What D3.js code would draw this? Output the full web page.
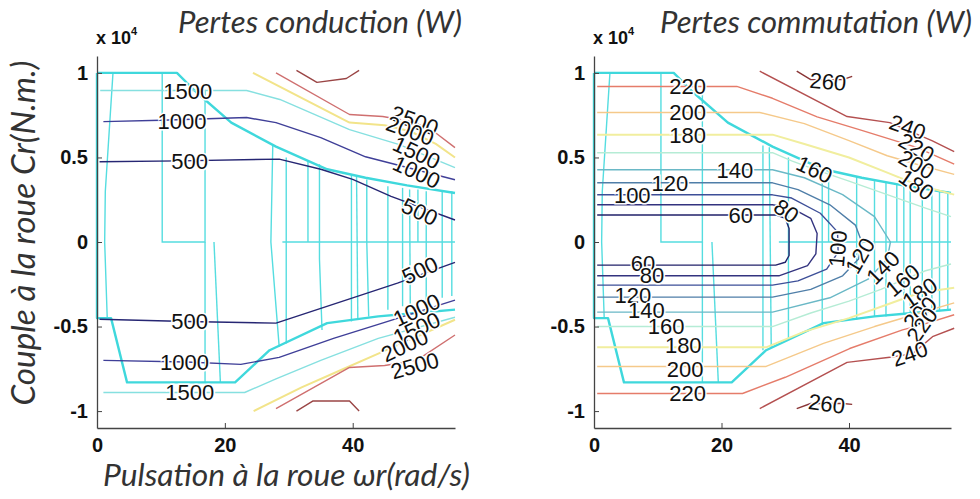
<!DOCTYPE html>
<html><head><meta charset="utf-8">
<script src="https://cdn.jsdelivr.net/npm/d3@7"></script>
<style>body{margin:0;background:#fff;} svg{display:block}</style>
</head><body>
<svg id="c" width="980" height="499"></svg>
<script>
// ---------- DATA ----------
const xTicks = [0, 20, 40];
const xTickLabels = ["0", "20", "40"];
const yTicks = [-1, -0.5, 0, 0.5, 1];
const yTickLabels = ["-1", "-0.5", "0", "0.5", "1"];
const titles = ["Pertes conduction (W)", "Pertes commutation (W)"];
const yLabel = "Couple à la roue Cr(N.m.)";
const xLabel = "Pulsation à la roue ωr(rad/s)";

// Conduction losses contours (x: rad/s, y: N.m x 1e4)
const cond500Top = [[0.4,0.475],[13,0.48],[28.5,0.49],[35,0.43],[40,0.37],[46,0.27],[56,0.13]];
const cond500Bot = [[0.4,-0.457],[14,-0.47],[28,-0.48],[40,-0.33],[47,-0.243],[56,-0.12]];
const cond1000Top = [[1,0.712],[10,0.72],[23.4,0.736],[28,0.706],[35,0.617],[42,0.504],[56,0.368]];
const cond1000Bot = [[1,-0.70],[14,-0.71],[22.5,-0.724],[28.5,-0.682],[37,-0.57],[45,-0.475],[56,-0.344]];
const cond1500Top = [[0.5,0.896],[23.4,0.896],[28.6,0.843],[39.5,0.665],[47.3,0.576],[56,0.44]];
const cond1500Bot = [[1,-0.89],[23.1,-0.89],[28,-0.81],[35,-0.7],[44,-0.57],[56,-0.445]];
const cond2000Top = [[24.4,1.0],[39.5,0.706],[45,0.69],[49,0.655],[53,0.58],[56,0.5]];
const cond2000Bot = [[24.5,-1.0],[32,-0.86],[38,-0.76],[44,-0.66],[56,-0.46]];
const cond2500Top = [[28,1.0],[39.5,0.754],[44.7,0.742],[49.5,0.71],[53,0.645],[56,0.558]];
const cond2500Bot = [[28,-0.985],[39.5,-0.742],[45,-0.73],[50,-0.7],[56,-0.55]];
const cond3000Top = [[31.2,1.015],[34.4,0.944],[39,0.967],[41,1.015]];
const cond3000Bot = [[31.2,-1.0],[33.8,-0.94],[39.5,-0.94],[41,-1.0]];
const condLabels = [
  ["1500",14.2,0.893,0],["1000",13.3,0.715,0],["500",14.5,0.478,0],
  ["2500",49.7,0.72,20],["2000",49,0.66,20],["1500",50,0.53,25],["1000",50,0.415,25],["500",50.5,0.18,25],
  ["500",14.5,-0.47,0],["1000",13.7,-0.71,0],["1500",14.5,-0.89,0],
  ["500",50.5,-0.166,-25],["1000",50,-0.40,-25],["1500",50,-0.51,-25],["2000",48.1,-0.61,-25],["2500",49.7,-0.73,-15]
];

// Switching losses contours
const comm60 = [[0.5,0.16],[28.5,0.16],[30,0.14],[30.6,0.08],[30.6,-0.08],[30,-0.12],[28.5,-0.137],[0.5,-0.137]];
const comm80 = [[0.5,0.22],[28,0.22],[31,0.2],[34,0.14],[35,0.05],[34.8,-0.07],[33.5,-0.14],[29,-0.2],[0.5,-0.2]];
const comm100 = [[0.5,0.279],[28,0.279],[31,0.26],[35.5,0.17],[38.2,0.06],[38.3,-0.06],[36.5,-0.16],[32,-0.23],[28,-0.255],[0.5,-0.255]];
const comm120 = [[0.5,0.35],[28,0.35],[32,0.31],[37,0.22],[41,0.1],[42,0.0],[41.5,-0.1],[39,-0.2],[34,-0.28],[28,-0.326],[0.5,-0.326]];
const comm140 = [[0.5,0.427],[28,0.427],[33,0.38],[39,0.28],[44,0.15],[46.5,0.0],[46,-0.1],[43,-0.22],[37,-0.33],[28,-0.415],[0.5,-0.415]];
const comm160Top = [[0.5,0.528],[28,0.528],[31,0.48],[34.6,0.43],[40,0.36],[46,0.28],[52,0.2],[56,0.15]];
const comm160Bot = [[0.5,-0.5],[28,-0.5],[34,-0.42],[40,-0.35],[45,-0.28],[48.4,-0.226],[52,-0.17],[56,-0.13]];
const comm180Top = [[0.5,0.635],[28,0.635],[33,0.58],[40,0.5],[46,0.41],[50.6,0.34],[56.5,0.28]];
const comm180Bot = [[0.5,-0.623],[27,-0.623],[33,-0.53],[40,-0.45],[46,-0.37],[51.1,-0.30],[56.5,-0.27]];
const comm200Top = [[0.5,0.766],[26,0.766],[33,0.7],[40,0.6],[46,0.51],[50.6,0.46],[56.5,0.4]];
const comm200Bot = [[0.5,-0.736],[27,-0.736],[36,-0.6],[44,-0.5],[51.1,-0.42],[56.5,-0.36]];
const comm220Top = [[0.5,0.92],[22.4,0.92],[28,0.85],[35,0.74],[42,0.66],[50.6,0.56],[56.5,0.46]];
const comm220Bot = [[0.5,-0.896],[23.3,-0.896],[30,-0.8],[40.1,-0.63],[48.4,-0.52],[51.4,-0.49],[56.5,-0.43]];
const comm240Top = [[26,1.01],[39.7,0.742],[46.4,0.706],[53,0.6],[56.5,0.534]];
const comm240Bot = [[26,-0.985],[39.7,-0.712],[46.4,-0.682],[50,-0.66],[53.1,-0.56],[56.5,-0.51]];
const comm260Top = [[31.8,1.01],[34,0.96],[39,0.96],[40.5,0.98]];
const comm260Bot = [[31.8,-0.985],[34,-0.955],[39,-0.955],[40.5,-0.96]];
const commLabels = [
  ["220",14.7,0.92,0],["200",14.7,0.766,0],["180",14.7,0.635,0],["140",22.1,0.427,0],["120",11.9,0.35,0],["100",6,0.28,0],["60",23,0.16,0],
  ["80",30.2,0.185,35],["160",34.6,0.43,25],["260",36.7,0.95,5],["240",49.2,0.68,20],["220",50.6,0.56,30],["200",50.6,0.46,30],["180",50.6,0.34,35],
  ["100",38.2,-0.04,-85],["120",41.7,-0.08,-60],["140",45.3,-0.15,-45],["160",48.4,-0.226,-40],["180",51.1,-0.30,-35],["200",51.1,-0.42,-45],["220",51.4,-0.49,-55],["240",49.5,-0.66,-20],["260",36.5,-0.955,8],
  ["60",7.7,-0.125,0],["80",9.1,-0.196,0],["120",6.1,-0.315,0],["140",8.2,-0.40,0],["160",11.3,-0.5,0],["180",14,-0.61,0],["200",14.3,-0.75,0],["220",14.7,-0.896,0]
];

// Operating envelope and zero-level contours (cyan)
const envTop = [[0,1.0],[12.5,1.0],[15.5,0.887],[21,0.706],[28,0.564],[36,0.43],[42,0.38],[48.5,0.335],[56,0.29]];
const envBot = [[0,1.0],[0,-0.45],[2.2,-0.45],[4.7,-0.83],[21.6,-0.83],[27,-0.64],[36,-0.48],[44,-0.44],[50,-0.42],[56,-0.4]];
const condZero = [
  [[2.5,1.0],[1.3,0.3],[1.2,0.0],[1.6,-0.45]],
  [[10.2,1.0],[10.2,0.0],[16.9,0.0],[16.9,0.9]],
  [[16.9,0.0],[16.9,-0.83]],
  [[18.3,0.0],[19.3,-0.83]],
  [[29,0.0],[56,0.0]],
  [[27.5,0.58],[27.2,0.0],[28.5,-0.62]],
  [[29.6,0.5],[29.6,-0.6]],
  [[33,0.48],[33,0.0]],
  [[34.8,0.46],[34.8,-0.1],[35.2,-0.52]],
  [[39.8,0.4],[39.8,-0.47]],
  [[40.6,0.39],[40.8,-0.46]],
  [[42.2,0.37],[42.2,0.0],[42.5,-0.44]],
  [[45.5,0.33],[45.5,-0.4]],
  [[47.8,0.32],[47.8,-0.38]],
  [[48.9,0.31],[49,-0.37]],
  [[50.2,0.31],[50.2,0.0]],
  [[51.5,0.3],[51.5,-0.35]],
  [[54,0.3],[54,-0.33]],
  [[55.5,0.3],[55.5,-0.32]]
];
const commZero = [
  [[2.5,1.0],[1.3,0.3],[1.2,0.0],[1.6,-0.45]],
  [[10.5,1.0],[10.5,0.0],[17,0.0],[17,0.9]],
  [[17,0.0],[17,-0.83]],
  [[18.5,0.0],[19.5,-0.83]],
  [[29,0.0],[56,0.0]],
  [[26.5,0.57],[26.5,-0.64]],
  [[27.5,0.56],[27.8,-0.62]],
  [[30.5,0.5],[30.5,-0.58]],
  [[35.8,0.43],[35.8,-0.48]],
  [[36.8,0.42],[36.8,0.0]],
  [[41.2,0.39],[41.2,-0.46]],
  [[44,0.36],[44,-0.44]],
  [[45.8,0.35],[45.8,-0.44]],
  [[47.5,0.34],[47.5,0.0]],
  [[48.6,0.34],[48.6,-0.43]],
  [[49.6,0.33],[49.6,-0.43]],
  [[51.5,0.32],[51.5,-0.42]],
  [[53,0.31],[53,-0.42]],
  [[54.2,0.3],[54.2,-0.41]],
  [[55.5,0.3],[55.5,-0.4]]
];

// ---------- DRAW ----------
const svg = d3.select("#c");
const xDomain = [0, 56], yDomain = [-1.1, 1.1];
const tickFont = "'Liberation Sans', Arial, sans-serif";
const labFont = "Lato, 'Open Sans', sans-serif";

const condSeries = [
  {d: cond500Top, c: "#262673"}, {d: cond500Bot, c: "#262673"},
  {d: cond1000Top, c: "#3f3f98"}, {d: cond1000Bot, c: "#3f3f98"},
  {d: cond1500Top, c: "#86e0e0"}, {d: cond1500Bot, c: "#86e0e0"},
  {d: cond2000Top, c: "#f2e48a", w: 2}, {d: cond2000Bot, c: "#f2e48a", w: 2},
  {d: cond2500Top, c: "#cf6f6f"}, {d: cond2500Bot, c: "#cf6f6f"},
  {d: cond3000Top, c: "#9a4545"}, {d: cond3000Bot, c: "#9a4545"}
];
const commSeries = [
  {d: comm60, c: "#22226a"}, {d: comm80, c: "#33337f"}, {d: comm100, c: "#3d4f98"},
  {d: comm120, c: "#4f7ea8"}, {d: comm140, c: "#6ab8c6"},
  {d: comm160Top, c: "#b5ecd5"}, {d: comm160Bot, c: "#b5ecd5"},
  {d: comm180Top, c: "#f1ee9e", w: 2}, {d: comm180Bot, c: "#f1ee9e", w: 2},
  {d: comm200Top, c: "#f5c98a"}, {d: comm200Bot, c: "#f5c98a"},
  {d: comm220Top, c: "#e57c6a"}, {d: comm220Bot, c: "#e57c6a"},
  {d: comm240Top, c: "#b45050"}, {d: comm240Bot, c: "#b45050"},
  {d: comm260Top, c: "#8a3535"}, {d: comm260Bot, c: "#8a3535"}
];

const panels = [
  {x0: 97, x1: 455, series: condSeries, labels: condLabels, zero: condZero, title: titles[0], tx: 178, tw: 284},
  {x0: 594, x1: 951, series: commSeries, labels: commLabels, zero: commZero, title: titles[1], tx: 660, tw: 312}
];

function fit(sel, target) {
  const L = sel.node().getComputedTextLength();
  const fs = parseFloat(sel.attr("font-size"));
  sel.attr("font-size", (fs * target / L).toFixed(2));
}

panels.forEach(p => {
  const xs = d3.scaleLinear().domain(xDomain).range([p.x0, p.x1]);
  const ys = d3.scaleLinear().domain(yDomain).range([428, 56]);
  const line = d3.line().x(d => xs(d[0])).y(d => ys(d[1]));
  const g = svg.append("g");

  g.selectAll(".z").data(p.zero).join("path")
    .attr("d", line).attr("fill", "none").attr("stroke", "#55dde0").attr("stroke-width", 1.4);
  [envTop, envBot].forEach(e => g.append("path").attr("d", line(e))
    .attr("fill", "none").attr("stroke", "#3fd8dc").attr("stroke-width", 2.4).attr("stroke-linejoin", "round"));
  g.selectAll(".ct").data(p.series).join("path")
    .attr("d", s => line(s.d)).attr("fill", "none").attr("stroke", s => s.c)
    .attr("stroke-width", s => s.w || 1.4).attr("stroke-linejoin", "round");
  g.selectAll(".lb").data(p.labels).join("text")
    .attr("transform", l => `translate(${xs(l[1])},${ys(l[2])}) rotate(${l[3]})`)
    .attr("text-anchor", "middle").attr("dy", "0.36em")
    .attr("font-family", tickFont).attr("font-size", 22).attr("fill", "#111")
    .attr("stroke", "#fff").attr("stroke-width", 3).attr("paint-order", "stroke")
    .text(l => l[0]);

  const ax = g.append("g").attr("transform", `translate(0,${ys(-1.1)})`)
    .call(d3.axisBottom(xs).tickValues(xTicks).tickFormat((d, i) => xTickLabels[i]).tickSizeInner(-5).tickSizeOuter(0).tickPadding(10));
  const ay = g.append("g").attr("transform", `translate(${xs(0)},0)`)
    .call(d3.axisLeft(ys).tickValues(yTicks).tickFormat((d, i) => yTickLabels[i]).tickSizeInner(-5).tickSizeOuter(0).tickPadding(9));
  [ax, ay].forEach(a => {
    a.select(".domain").attr("stroke", "#444").attr("stroke-width", 1.3);
    a.selectAll(".tick line").attr("stroke", "#444");
    a.selectAll("text").attr("font-family", tickFont).attr("font-size", 20)
      .attr("font-weight", "bold").attr("fill", "#111");
  });

  const ex = g.append("text").attr("x", p.x0 - 1).attr("y", 44)
    .attr("font-family", tickFont).attr("font-weight", "bold").attr("font-size", 18).attr("fill", "#111");
  ex.append("tspan").text("x 10");
  ex.append("tspan").attr("font-size", 11).attr("dy", -9).text("4");

  const t = g.append("text").attr("x", p.tx).attr("y", 33)
    .attr("font-family", labFont).attr("font-style", "italic").attr("font-size", 22)
    .attr("fill", "#333").text(p.title);
  fit(t, p.tw);
});

const yl = svg.append("text").attr("transform", "translate(35,233) rotate(-90)")
  .attr("text-anchor", "middle").attr("font-family", labFont).attr("font-style", "italic")
  .attr("font-size", 22).attr("fill", "#333").text(yLabel);
fit(yl, 345);
const xl = svg.append("text").attr("x", 103).attr("y", 486)
  .attr("font-family", labFont).attr("font-style", "italic")
  .attr("font-size", 22).attr("fill", "#333").text(xLabel);
fit(xl, 367);
</script></body></html>
